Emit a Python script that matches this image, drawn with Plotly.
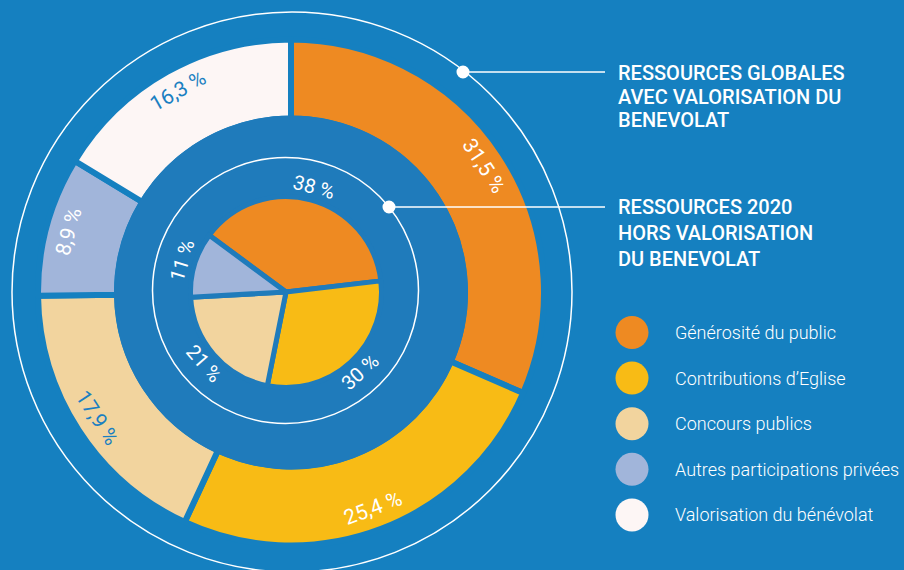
import math
import plotly.graph_objects as go

# ---------------- data ----------------
categories = ["Générosité du public", "Contributions d’Eglise", "Concours publics",
              "Autres participations privées", "Valorisation du bénévolat"]
outer_values = [31.5, 25.4, 17.9, 8.9, 16.3]
outer_labels = ["31,5 %", "25,4 %", "17,9 %", "8,9 %", "16,3 %"]
inner_categories = categories[:4]
inner_values = [38, 30, 21, 11]
inner_labels = ["38 %", "30 %", "21 %", "11 %"]
title_outer = ["RESSOURCES GLOBALES", "AVEC VALORISATION DU", "BENEVOLAT"]
title_inner = ["RESSOURCES 2020", "HORS VALORISATION", "DU BENEVOLAT"]

# ---------------- style ----------------
W, H = 904, 570
BG = "#1580c0"
DARK = "#1f7bbb"
TXT_BLUE = "#1a7fc1"
colors = ["#ee8a22", "#f8bb15", "#f2d49e", "#a1b5da", "#fdf6f5"]
outer_txt_colors = ["white", "white", TXT_BLUE, "white", TXT_BLUE]

OCX, OCY = 291, 292.5          # outer donut centre (px)
GAP_O = 6
R_OUT = 250 + GAP_O / 2
R_IN = 177 - GAP_O / 2
ICX, ICY = 286, 292            # inner pie centre
GAP_I = 5
R_PIE = 93 + GAP_I / 2
INNER_ROT = -53.5


def dom(cx, cy, r):
    return dict(x=[(cx - r) / W, (cx + r) / W], y=[(H - cy - r) / H, (H - cy + r) / H])


fig = go.Figure()

fig.add_trace(go.Pie(
    labels=categories, values=outer_values, sort=False, direction="clockwise", rotation=0,
    hole=R_IN / R_OUT, domain=dom(OCX, OCY, R_OUT),
    marker=dict(colors=colors, line=dict(color=BG, width=GAP_O)),
    textinfo="none", hoverinfo="label+value", showlegend=False))

# darker disc inside the outer ring
fig.add_trace(go.Pie(
    labels=["fond"], values=[1], sort=False, domain=dom(OCX, OCY, 177),
    marker=dict(colors=[DARK], line=dict(width=0)),
    textinfo="none", hoverinfo="skip", showlegend=False))

fig.add_trace(go.Pie(
    labels=inner_categories, values=inner_values, sort=False, direction="clockwise",
    rotation=INNER_ROT, hole=0, domain=dom(ICX, ICY, R_PIE),
    marker=dict(colors=colors[:4], line=dict(color=DARK, width=GAP_I)),
    textinfo="none", hoverinfo="label+value", showlegend=False))

annotations = []


def ring_labels(values, labels, tcolors, cx, cy, r, rot, size):
    total = sum(values)
    cum = 0
    for v, lab, c in zip(values, labels, tcolors):
        mid = rot + (cum + v / 2) / total * 360
        cum += v
        a = mid % 360
        x = cx + r * math.sin(math.radians(a))
        y = cy - r * math.cos(math.radians(a))
        ang = a - 180 if 90 < a < 270 else (a if a <= 90 else a - 360)
        annotations.append(dict(x=x, y=y, xref="x", yref="y", text=lab, showarrow=False,
                                textangle=ang, xanchor="center", yanchor="middle",
                                font=dict(family="Roboto", size=size, color=c)))


ring_labels(outer_values, outer_labels, outer_txt_colors, OCX, OCY, 231, 0, 21)
ring_labels(inner_values, inner_labels, ["white"] * 4, ICX, ICY, 109, INNER_ROT, 20)

for i, t in enumerate(title_outer):
    annotations.append(dict(x=616, y=[73, 97, 120][i], xref="x", yref="y", text=t, showarrow=False,
                            xanchor="left", yanchor="middle",
                            font=dict(family="Roboto", size=20, color="white", weight=500)))
for i, t in enumerate(title_inner):
    annotations.append(dict(x=616, y=[207, 233, 259][i], xref="x", yref="y", text=t, showarrow=False,
                            xanchor="left", yanchor="middle",
                            font=dict(family="Roboto", size=20, color="white", weight=500)))

shapes = []
# thin white circles
shapes.append(dict(type="circle", xref="x", yref="y", x0=292 - 280, x1=292 + 280, y0=292 - 280, y1=292 + 280,
                   line=dict(color="white", width=1.5), layer="above"))
shapes.append(dict(type="circle", xref="x", yref="y", x0=285.5 - 133, x1=285.5 + 133, y0=290.5 - 133,
                   y1=290.5 + 133, line=dict(color="white", width=1.5), layer="above"))
# pointers
for (dx, dy) in [(463, 72), (389, 207)]:
    shapes.append(dict(type="line", xref="x", yref="y", x0=dx, x1=605, y0=dy, y1=dy,
                       line=dict(color="white", width=1.5), layer="above"))
    shapes.append(dict(type="circle", xref="x", yref="y", x0=dx - 6.5, x1=dx + 6.5, y0=dy - 6.5, y1=dy + 6.5,
                       fillcolor="white", line=dict(width=0), layer="above"))

# legend
for i, (cat, col) in enumerate(zip(categories, colors)):
    ly = 332.5 + i * 45.6
    shapes.append(dict(type="circle", xref="x", yref="y", x0=632 - 16.5, x1=632 + 16.5, y0=ly - 16.5,
                       y1=ly + 16.5, fillcolor=col, line=dict(width=0), layer="above"))
    annotations.append(dict(x=673, y=ly, xref="x", yref="y", text=cat, showarrow=False,
                            xanchor="left", yanchor="middle",
                            font=dict(family="Roboto", size=18, color="white", weight=300)))

fig.update_layout(
    width=W, height=H, margin=dict(l=0, r=0, t=0, b=0),
    paper_bgcolor=BG, plot_bgcolor="rgba(0,0,0,0)",
    xaxis=dict(range=[0, W], visible=False, fixedrange=True),
    yaxis=dict(range=[H, 0], visible=False, fixedrange=True),
    shapes=shapes, annotations=annotations, showlegend=False)

fig.write_html("out.html", config={"displayModeBar": False},
               post_script="document.body.style.margin='0px';document.body.style.overflow='hidden';")
